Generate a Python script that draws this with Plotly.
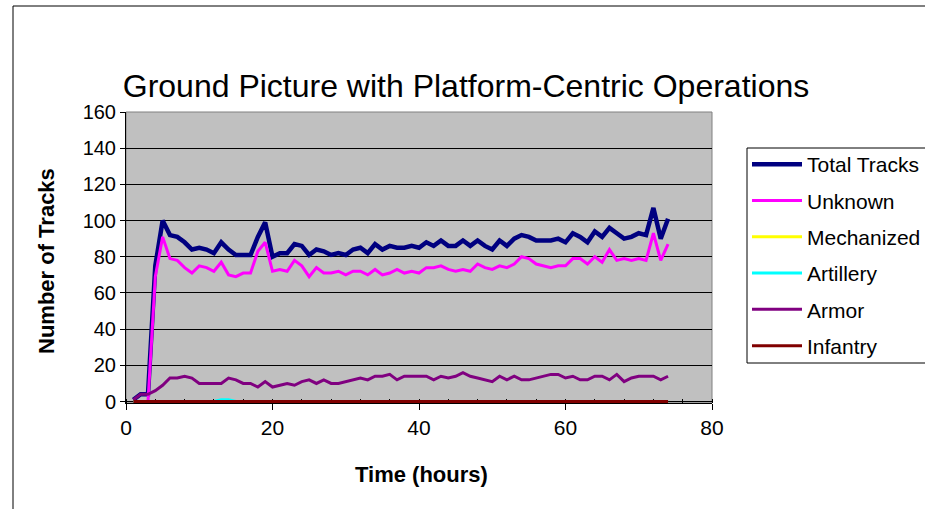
import plotly.graph_objects as go

# Hourly track counts, hours 1..74
hours = list(range(1, 75))

total_tracks = [1, 4, 4, 75, 100, 92, 91, 88, 84, 85,
                84, 82, 88, 84, 81, 81, 81, 91, 99, 80,
                82, 82, 87, 86, 81, 84, 83, 81, 82, 81,
                84, 85, 82, 87, 84, 86, 85, 85, 86, 85,
                88, 86, 89, 86, 86, 89, 86, 89, 86, 84,
                89, 86, 90, 92, 91, 89, 89, 89, 90, 88,
                93, 91, 88, 94, 91, 96, 93, 90, 91, 93,
                92, 107, 90, 101]

unknown = [0, 0, 0, 69, 91, 79, 78, 74, 71, 75,
           74, 72, 77, 70, 69, 71, 71, 83, 88, 72,
           73, 72, 78, 75, 69, 74, 71, 71, 72, 70,
           72, 72, 70, 73, 70, 71, 73, 71, 72, 71,
           74, 74, 75, 73, 72, 73, 72, 76, 74, 73,
           75, 74, 76, 80, 79, 76, 75, 74, 75, 75,
           79, 79, 76, 80, 77, 84, 78, 79, 78, 79,
           78, 93, 78, 87]

mechanized = [0] * 74

artillery = [0] * 74
artillery[12] = 1
artillery[13] = 1

armor = [1, 4, 4, 6, 9, 13, 13, 14, 13, 10,
         10, 10, 10, 13, 12, 10, 10, 8, 11, 8,
         9, 10, 9, 11, 12, 10, 12, 10, 10, 11,
         12, 13, 12, 14, 14, 15, 12, 14, 14, 14,
         14, 12, 14, 13, 14, 16, 14, 13, 12, 11,
         14, 12, 14, 12, 12, 13, 14, 15, 15, 13,
         14, 12, 12, 14, 14, 12, 15, 11, 13, 14,
         14, 14, 12, 14]

infantry = [0] * 74

series = [
    ("Total Tracks", total_tracks, "#000080", 4.5),
    ("Unknown", unknown, "#FF00FF", 3),
    ("Mechanized", mechanized, "#FFFF00", 3),
    ("Artillery", artillery, "#00FFFF", 3),
    ("Armor", armor, "#800080", 3),
    ("Infantry", infantry, "#800000", 3),
]

FONT = "Liberation Sans, Arial, sans-serif"

fig = go.Figure()
for i, (name, vals, color, width) in enumerate(series):
    fig.add_trace(go.Scatter(
        x=hours, y=vals, name=name, mode="lines",
        line=dict(color=color, width=width),
        legendgroup=f"g{i}",
    ))

# plot area in pixels: x 126..712, y 112..403
W, H = 925, 509
L, R, T, B = 126, 712, 112, 403
Y_MIN = -0.8  # small pad so lines at zero stay fully visible


def px_x(p):
    return (p - L) / (R - L)


def px_y(p):
    return (B - p) / (B - T)


fig.update_layout(
    width=W, height=H,
    margin=dict(l=L, r=W - R, t=T, b=H - B, pad=0, autoexpand=False),
    paper_bgcolor="white",
    plot_bgcolor="#C0C0C0",
    font=dict(family=FONT, color="black", size=20),
    title=dict(
        text="Ground Picture with Platform-Centric Operations",
        font=dict(family=FONT, size=32, color="black"),
        xref="paper", x=px_x(466), xanchor="center",
        yref="container", y=1 - 86 / H, yanchor="middle",
    ),
    showlegend=True,
    legend=dict(
        x=px_x(747), xanchor="left",
        y=px_y(144), yanchor="top",
        bgcolor="rgba(0,0,0,0)", borderwidth=0,
        font=dict(family=FONT, size=21, color="black"),
        tracegroupgap=6,
        itemwidth=50,
    ),
    xaxis=dict(
        range=[0, 80], dtick=20, tick0=0,
        showgrid=False, zeroline=False,
        showline=True, linecolor="black", linewidth=1,
        ticks="outside", ticklen=6, tickcolor="black",
        minor=dict(dtick=4, ticks="inside", ticklen=4, tickcolor="black"),
        tickfont=dict(family=FONT, size=21),
        layer="below traces",
        fixedrange=True,
    ),
    yaxis=dict(
        range=[Y_MIN, 160], tickvals=list(range(0, 161, 20)),
        showgrid=True, gridcolor="black", gridwidth=1,
        zeroline=False,
        showline=True, linecolor="black", linewidth=1,
        ticks="outside", ticklen=5, tickcolor="black",
        tickfont=dict(family=FONT, size=20),
        layer="below traces",
        fixedrange=True,
    ),
    shapes=[
        # gray frame of the plotting area
        dict(type="rect", xref="paper", yref="paper", x0=0, x1=1, y0=0, y1=1,
             line=dict(color="#808080", width=1), fillcolor="rgba(0,0,0,0)",
             layer="below"),
        # legend box
        dict(type="rect", xref="paper", yref="paper",
             x0=px_x(747), x1=px_x(960), y0=px_y(363), y1=px_y(148),
             line=dict(color="black", width=1), fillcolor="white",
             layer="below"),
        # outer chart border
        dict(type="rect", xref="paper", yref="paper",
             x0=px_x(13), x1=px_x(960), y0=px_y(540), y1=px_y(6),
             line=dict(color="black", width=1), fillcolor="rgba(0,0,0,0)",
             layer="above"),
    ],
    annotations=[
        dict(text="<b>Number of Tracks</b>", textangle=-90,
             xref="paper", yref="paper", x=px_x(46), y=px_y(261),
             xanchor="center", yanchor="middle", showarrow=False,
             font=dict(family=FONT, size=22)),
        dict(text="<b>Time (hours)</b>",
             xref="paper", yref="paper", x=px_x(421), y=px_y(474),
             xanchor="center", yanchor="middle", showarrow=False,
             font=dict(family=FONT, size=22)),
    ],
)

fig.write_html("out.html")
